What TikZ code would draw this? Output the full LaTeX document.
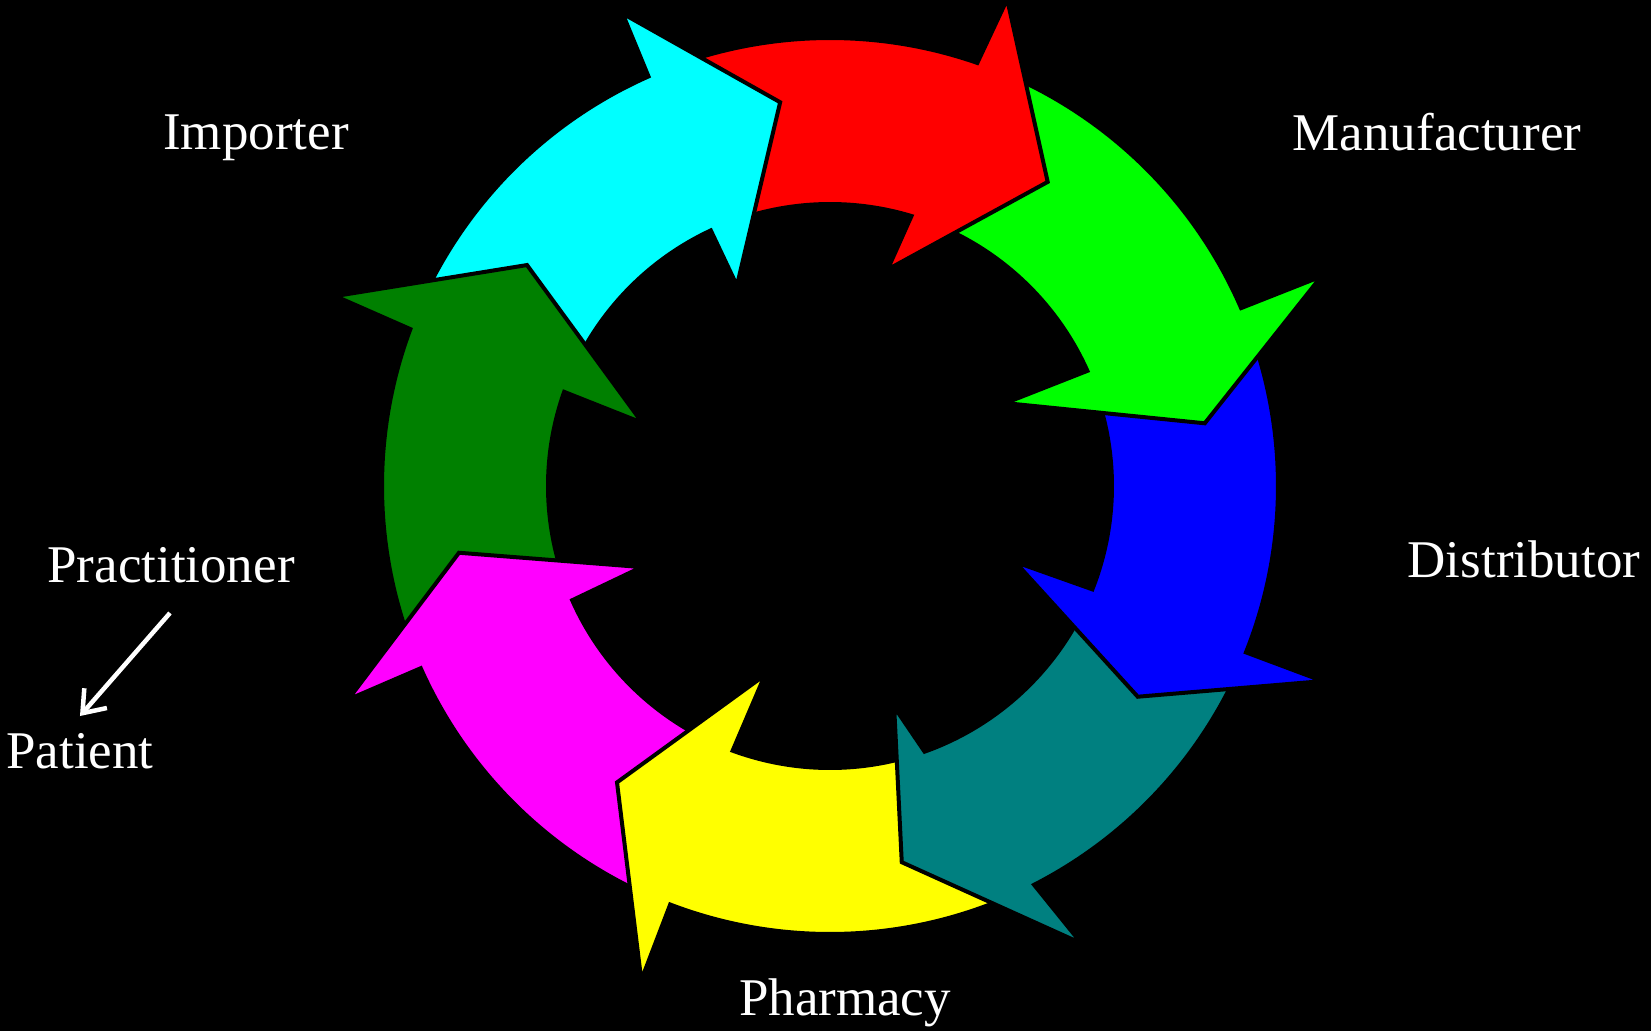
\documentclass[tikz,border=0pt]{standalone}
\usepackage{fontspec}
\setmainfont{Liberation Serif}
\usetikzlibrary{arrows.meta}
\definecolor{cRed}{RGB}{255,0,0}
\definecolor{cCyan}{RGB}{0,255,255}
\definecolor{cDkGreen}{RGB}{0,128,0}
\definecolor{cMagenta}{RGB}{255,0,255}
\definecolor{cYellow}{RGB}{255,255,0}
\definecolor{cTeal}{RGB}{0,128,128}
\definecolor{cBlue}{RGB}{0,0,255}
\definecolor{cGreen}{RGB}{0,255,0}
\begin{document}
\begin{tikzpicture}[x=1pt,y=1pt,
  arr/.style={draw=black, line width=4pt, line join=miter},
  lbl/.style={text=white, font=\fontsize{53}{60}\selectfont, anchor=base, inner sep=0pt},
  wline/.style={draw=white, line width=4.5pt, -{Straight Barb[length=20pt,width=30pt]}}]
\fill[black] (-830,-545) rectangle (821,486);
\useasboundingbox (-830,-545) rectangle (821,486);
% red
\path[arr, fill=cRed] (115.4:448) arc[start angle=115.4, end angle=70.8, radius=448pt]
  -- (70.0:518) -- (54.4:374) -- (75.1:224) -- (73.2:282)
  arc[start angle=73.2, end angle=115.4, radius=282pt] -- cycle;
% cyan
\path[arr, fill=cCyan] (-198.1:448) arc[start angle=-198.1, end angle=-246.1, radius=448pt]
  -- (-246.3:516) -- (-262.6:387) -- (-245.1:221) -- (-245.0:282)
  arc[start angle=-245.0, end angle=-198.1, radius=282pt] -- cycle;
% dark green
\path[arr, fill=cDkGreen] (-151.8:448) arc[start angle=-151.8, end angle=-200.5, radius=448pt]
  -- (-201.0:530) -- (-216.1:375) -- (-198.6:198) -- (-199.5:282)
  arc[start angle=-199.5, end angle=-151.8, radius=282pt] -- cycle;
% magenta
\path[arr, fill=cMagenta] (-107.7:448) arc[start angle=-107.7, end angle=-156.0, radius=448pt]
  -- (-156.1:527) -- (-169.8:377) -- (-156.7:205) -- (-156.1:282)
  arc[start angle=-156.1, end angle=-107.7, radius=282pt] -- cycle;
% yellow
\path[arr, fill=cYellow] (-61.2:448) arc[start angle=-61.2, end angle=-110.9, radius=448pt]
  -- (-110.9:529) -- (-125.7:365) -- (-109.0:200) -- (-110.2:282)
  arc[start angle=-110.2, end angle=-61.2, radius=282pt] -- cycle;
% teal
\path[arr, fill=cTeal] (-16.4:448) arc[start angle=-16.4, end angle=-62.9, radius=448pt]
  -- (-61.2:522) -- (-79.2:383) -- (-73.8:230) -- (-70.4:282)
  arc[start angle=-70.4, end angle=-16.4, radius=282pt] -- cycle;
% blue
\path[arr, fill=cBlue] (27.5:448) arc[start angle=27.5, end angle=-21.8, radius=448pt]
  -- (-21.6:530) -- (-34.4:373) -- (-22.3:200) -- (-21.5:282)
  arc[start angle=-21.5, end angle=27.5, radius=282pt] -- cycle;
% green
\path[arr, fill=cGreen] (72.4:448) arc[start angle=72.4, end angle=23.4, radius=448pt]
  -- (23.1:534) -- (9.5:380) -- (25.3:194) -- (24.1:282)
  arc[start angle=24.1, end angle=72.4, radius=282pt] -- cycle;
% red again, on top of green's tail
\begin{scope}
\clip (0,0) -- (90:800) arc[start angle=90, end angle=20, radius=800pt] -- cycle;
\path[arr, fill=cRed] (115.4:448) arc[start angle=115.4, end angle=70.8, radius=448pt]
  -- (70.0:518) -- (54.4:374) -- (75.1:224) -- (73.2:282)
  arc[start angle=73.2, end angle=115.4, radius=282pt] -- cycle;
\end{scope}
% labels
\node[lbl] (imp) at (-574,336) {Importer};
\node[lbl] (man) at (607,335) {Manufacturer};
\node[lbl] (dist) at (694,-91) {Distributor};
\node[lbl] (pha) at (15,-529) {Pharmacy};
\node[lbl] (pra) at (-659,-96) {Practitioner};
\node[lbl] (pat) at (-750,-282) {Patient};
\coordinate (a1) at (-660,-127);
\coordinate (a2) at (-750,-230);
\draw[wline] (a1) -- (a2);
\end{tikzpicture}
\end{document}
